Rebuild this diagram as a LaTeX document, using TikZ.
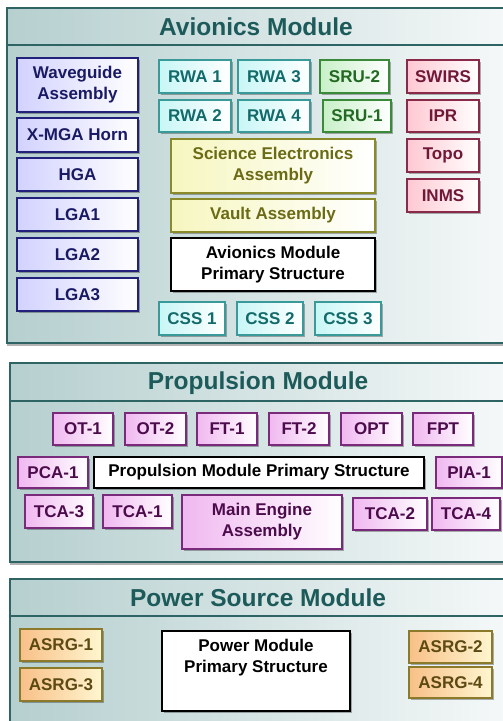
\documentclass[tikz,border=0pt]{standalone}
\usepackage{fontspec}
\setmainfont{Liberation Sans}
\usetikzlibrary{shadows}
\definecolor{modborder}{HTML}{2E6464}
\definecolor{modleft}{HTML}{B6CFCF}
\definecolor{modright}{HTML}{F6F9F9}
\definecolor{modtitle}{HTML}{1D5A5A}
\definecolor{navyb}{HTML}{22227A}
\definecolor{navyf}{HTML}{D2D2FF}
\definecolor{navyt}{HTML}{1A1A64}
\definecolor{tealb}{HTML}{3A9A9A}
\definecolor{tealf}{HTML}{C8F6F6}
\definecolor{tealt}{HTML}{136A6A}
\definecolor{greenb}{HTML}{3A8A3A}
\definecolor{greenf}{HTML}{C8F0C8}
\definecolor{greent}{HTML}{226A22}
\definecolor{marb}{HTML}{8A2A4A}
\definecolor{marf}{HTML}{FFC8D2}
\definecolor{mart}{HTML}{701838}
\definecolor{olb}{HTML}{8A8A2A}
\definecolor{olf}{HTML}{F6F6C0}
\definecolor{olt}{HTML}{6B6B16}
\definecolor{purb}{HTML}{7A2A7A}
\definecolor{purf}{HTML}{F0B8F0}
\definecolor{purt}{HTML}{4C0C4C}
\definecolor{asb}{HTML}{8A7A2A}
\definecolor{asf}{HTML}{F8C088}
\definecolor{asr}{HTML}{FFF6D0}
\definecolor{ast}{HTML}{5C4A12}
\tikzset{
  box/.style={draw, line width=1.2pt, align=center, inner sep=0pt,
    font=\fontsize{17}{21}\selectfont\bfseries,
    drop shadow={shadow xshift=1.5pt, shadow yshift=-1.5pt, fill=black, opacity=0.3}},
  navybox/.style={box, draw=navyb, left color=navyf, right color=white, text=navyt},
  tealbox/.style={box, draw=tealb, left color=tealf, right color=white, text=tealt},
  greenbox/.style={box, draw=greenb, left color=greenf, right color=white, text=greent},
  marbox/.style={box, draw=marb, left color=marf, right color=white, text=mart},
  olbox/.style={box, draw=olb, left color=olf, right color=white, text=olt},
  purbox/.style={box, draw=purb, left color=purf, right color=white, text=purt},
  asbox/.style={box, draw=asb, left color=asf, right color=asr, text=ast},
  pstruct/.style={box, draw=black, fill=white, text=black},
  module/.style={draw=modborder, line width=1.2pt, left color=modleft, right color=modright,
    drop shadow={shadow xshift=0pt, shadow yshift=-3pt, fill=black, opacity=0.3}},
  modtitle/.style={font=\fontsize{24.5}{28}\selectfont\bfseries, text=modtitle},
  sepline/.style={draw=modborder, line width=1.2pt},
}
\begin{document}
\begin{tikzpicture}[x=1pt, y=-1pt]
\useasboundingbox (0,0) rectangle (503,721);
\clip (0,0) rectangle (503,721);
\fill[white] (0,0) rectangle (503,721);

% ---------------- Avionics Module ----------------
\path[module] (7,8) rectangle (520,343);
\coordinate (avl) at (7,45);
\coordinate (avr) at (520,45);
\draw[sepline] (avl) -- (avr);
\node[modtitle] (avtitle) at (256,27) {Avionics Module};

\node[navybox, minimum width=121pt, minimum height=54pt] (wg) at (77.5,85) {Waveguide\\Assembly};
\node[navybox, minimum width=121pt, minimum height=34pt] (xmga) at (77.5,135) {X-MGA Horn};
\node[navybox, minimum width=121pt, minimum height=33pt] (hga) at (77.5,174.5) {HGA};
\node[navybox, minimum width=121pt, minimum height=33pt] (lga1) at (77.5,214.5) {LGA1};
\node[navybox, minimum width=121pt, minimum height=33pt] (lga2) at (77.5,254.5) {LGA2};
\node[navybox, minimum width=121pt, minimum height=33pt] (lga3) at (77.5,294.5) {LGA3};

\node[tealbox, minimum width=72pt, minimum height=33pt] (rwa1) at (195,76.5) {RWA 1};
\node[tealbox, minimum width=72pt, minimum height=33pt] (rwa3) at (274,76.5) {RWA 3};
\node[greenbox, minimum width=69pt, minimum height=33pt] (sru2) at (354.5,76.5) {SRU-2};
\node[tealbox, minimum width=72pt, minimum height=32pt] (rwa2) at (195,116) {RWA 2};
\node[tealbox, minimum width=72pt, minimum height=32pt] (rwa4) at (274,116) {RWA 4};
\node[greenbox, minimum width=68pt, minimum height=32pt] (sru1) at (357,116) {SRU-1};

\node[marbox, minimum width=72pt, minimum height=33pt] (swirs) at (443,76.5) {SWIRS};
\node[marbox, minimum width=72pt, minimum height=32pt] (ipr) at (443,116) {IPR};
\node[marbox, minimum width=72pt, minimum height=33pt] (topo) at (443,155.5) {Topo};
\node[marbox, minimum width=72pt, minimum height=33pt] (inms) at (443,195.5) {INMS};

\node[olbox, minimum width=204pt, minimum height=54pt] (sea) at (273,166) {Science Electronics\\Assembly};
\node[olbox, minimum width=204pt, minimum height=33pt] (vault) at (273,215.5) {Vault Assembly};
\node[pstruct, minimum width=204pt, minimum height=53pt] (amps) at (273,264.5) {Avionics Module\\Primary Structure};

\node[tealbox, minimum width=66pt, minimum height=33pt] (css1) at (192,318.5) {CSS 1};
\node[tealbox, minimum width=66pt, minimum height=33pt] (css2) at (270,318.5) {CSS 2};
\node[tealbox, minimum width=66pt, minimum height=33pt] (css3) at (348,318.5) {CSS 3};

% ---------------- Propulsion Module ----------------
\path[module] (10,363) rectangle (520,562);
\coordinate (prl) at (10,401);
\coordinate (prr) at (520,401);
\draw[sepline] (prl) -- (prr);
\node[modtitle] (prtitle) at (258,383) {Propulsion Module};

\node[purbox, minimum width=60pt, minimum height=32pt] (ot1) at (83,429) {OT-1};
\node[purbox, minimum width=61pt, minimum height=32pt] (ot2) at (155.5,429) {OT-2};
\node[purbox, minimum width=60pt, minimum height=32pt] (ft1) at (227,429) {FT-1};
\node[purbox, minimum width=60pt, minimum height=32pt] (ft2) at (299,429) {FT-2};
\node[purbox, minimum width=61pt, minimum height=32pt] (opt) at (371.5,429) {OPT};
\node[purbox, minimum width=60pt, minimum height=32pt] (fpt) at (443,429) {FPT};

\node[purbox, minimum width=70pt, minimum height=31pt] (pca1) at (53,472.5) {PCA-1};
\node[pstruct, minimum width=330pt, minimum height=31pt] (pmps) at (259,472.5) {Propulsion Module Primary Structure};
\node[purbox, minimum width=66pt, minimum height=31pt] (pia1) at (469,472.5) {PIA-1};

\node[purbox, minimum width=68pt, minimum height=33pt] (tca3) at (59,511.5) {TCA-3};
\node[purbox, minimum width=69pt, minimum height=33pt] (tca1) at (137.5,511.5) {TCA-1};
\node[purbox, minimum width=160pt, minimum height=54pt] (mea) at (262,522) {Main Engine\\Assembly};
\node[purbox, minimum width=74pt, minimum height=32pt] (tca2) at (390,514) {TCA-2};
\node[purbox, minimum width=68pt, minimum height=32pt] (tca4) at (466,514) {TCA-4};

% ---------------- Power Source Module ----------------
\path[module] (10,579) rectangle (520,740);
\coordinate (pol) at (10,616);
\coordinate (por) at (520,616);
\draw[sepline] (pol) -- (por);
\node[modtitle] (potitle) at (258,598) {Power Source Module};

\node[asbox, minimum width=82pt, minimum height=32pt] (asrg1) at (61,645) {ASRG-1};
\node[asbox, minimum width=82pt, minimum height=33pt] (asrg3) at (61,684.5) {ASRG-3};
\node[pstruct, minimum width=188pt, minimum height=80pt,
  label={[font=\fontsize{17}{21}\selectfont\bfseries, align=center, anchor=north, yshift=-5.5pt, text=black]north:{Power Module\\Primary Structure}}] (pwps) at (256,671) {};
\node[asbox, minimum width=83pt, minimum height=32pt] (asrg2) at (450.5,647) {ASRG-2};
\node[asbox, minimum width=83pt, minimum height=31pt] (asrg4) at (450.5,682.5) {ASRG-4};
\end{tikzpicture}
\end{document}
